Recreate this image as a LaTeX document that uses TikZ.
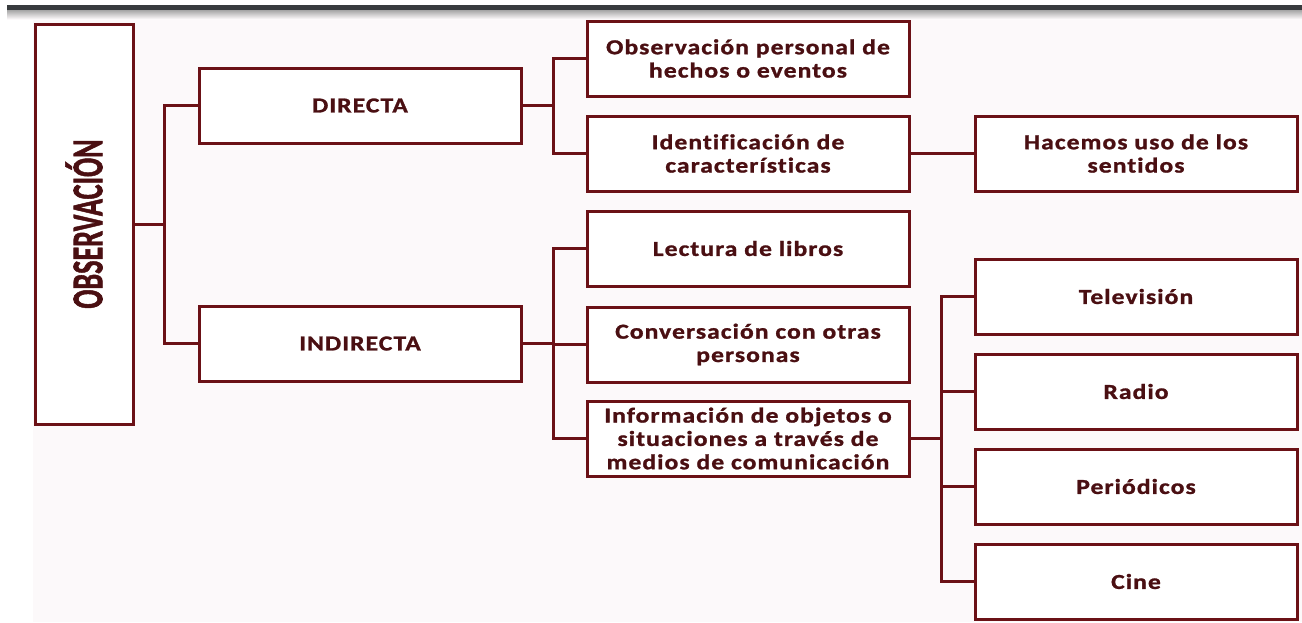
\documentclass[tikz,border=0pt]{standalone}
\usepackage{fontspec}
\newfontfamily\bfont{Carlito}[FakeStretch=1.2, LetterSpace=5.0, Ligatures=CommonOff, FakeBold=1.2]
\newfontfamily\vfont{Carlito}[FakeBold=1.5]
\definecolor{bordc}{HTML}{6B1116}
\definecolor{txtc}{HTML}{4A0F12}
\definecolor{bgc}{HTML}{FCF9FA}
\definecolor{barc}{HTML}{383B3E}
\tikzset{
  box/.style={draw=bordc, line width=2.25pt, fill=white, align=center,
    text=txtc, font=\bfont\bfseries\fontsize{16}{17.5}\selectfont,
    minimum width=241.5pt, minimum height=56.25pt, inner sep=0pt},
  conn/.style={draw=bordc, line width=2.25pt},
}
\begin{document}
\begin{tikzpicture}[x=0.75pt,y=-0.75pt]
\useasboundingbox (0,0) rectangle (1302,622);
\fill[white] (0,0) rectangle (1302,622);
\fill[bgc] (33,10) rectangle (1302,622);
\shade[top color=black!35, bottom color=bgc] (7,10) rectangle (1302,19);
\fill[barc] (7,5) rectangle (1302,10);
% nodes
\node[box, minimum width=73.5pt, minimum height=300pt] (obs) at (84,224)
  {\rotatebox{90}{\scalebox{0.64}[1]{\vfont\bfseries\fontsize{33}{33}\selectfont OBSERVACIÓN}}};
\node[box] (dir) at (360,105.5) {DIRECTA};
\node[box] (ind) at (360,343.5) {INDIRECTA};
\node[box] (op)  at (748,58.5)  {Observación personal de\\hechos o eventos};
\node[box] (id)  at (748,153.5) {Identificación de\\características};
\node[box] (lec) at (748,248.5) {Lectura de libros};
\node[box] (con) at (748,344.5) {Conversación con otras\\personas};
\node[box] (inf) at (748,438.5) {Información de objetos o\\situaciones a través de\\medios de comunicación};
\node[box] (hac) at (1136,153.5) {Hacemos uso de los\\sentidos};
\node[box] (tv)  at (1136,296.5) {Televisión};
\node[box] (rad) at (1136,391.5) {Radio};
\node[box] (per) at (1136,486.5) {Periódicos};
\node[box] (cin) at (1136,581.5) {Cine};
% connectors
\draw[conn] (dir.west) -- ++(-33,0) |- (obs.east);
\draw[conn] (ind.west) -- ++(-33,0) |- (obs.east);
\draw[conn] (op.west) -- ++(-32,0) |- (dir.east);
\draw[conn] (id.west) -- ++(-32,0) |- (dir.east);
\draw[conn] (id.east) -- (hac.west);
\draw[conn] (lec.west) -- ++(-32,0) |- (ind.east);
\draw[conn] (con.west) -- ++(-32,0) |- (ind.east);
\draw[conn] (inf.west) -- ++(-32,0) |- (ind.east);
\draw[conn] (tv.west) -- ++(-32,0) |- (inf.east);
\draw[conn] (rad.west) -- ++(-32,0) |- (inf.east);
\draw[conn] (per.west) -- ++(-32,0) |- (inf.east);
\draw[conn] (cin.west) -- ++(-32,0) |- (inf.east);
\end{tikzpicture}
\end{document}
